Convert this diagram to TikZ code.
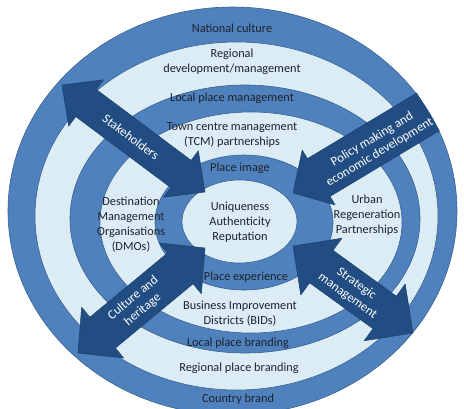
\documentclass[tikz,border=0pt]{standalone}
\usepackage{fontspec}
\setmainfont{Carlito}
\definecolor{ringmid}{RGB}{79,129,189}
\definecolor{ringlight}{RGB}{219,236,245}
\definecolor{ringedge}{RGB}{58,96,146}
\definecolor{arrowblue}{RGB}{33,77,130}
\definecolor{labeltext}{RGB}{30,35,45}

\begin{document}
\begin{tikzpicture}[line cap=round,line join=round,x=1pt,y=-1pt,
    midring/.style={fill=ringmid,draw=ringedge,line width=0.6pt},
    lightring/.style={fill=ringlight,draw=ringedge,line width=0.6pt},
    bigarrow/.style={fill=arrowblue,draw=arrowblue!85!black,line width=0.5pt},
    ringlabel/.style={text=labeltext,font=\fontsize{12.3}{15}\selectfont,align=center,inner sep=0pt},
    arrowlabel/.style={text=white,font=\fontsize{12.8}{15}\selectfont,align=center,inner sep=0pt}]
      \useasboundingbox (0,0) rectangle (464,408);
      \clip (0,0) rectangle (464,408);
      \draw[midring] (232.5,211) ellipse [x radius=224.5,y radius=204];
      \draw[lightring] (236.5,216) ellipse [x radius=201.5,y radius=174];
      \draw[midring] (245,219) ellipse [x radius=175,y radius=134];
      \draw[lightring] (251,222.5) ellipse [x radius=151,y radius=110.5];
      \draw[midring] (244,222.5) ellipse [x radius=89,y radius=67.5];
      \draw[lightring] (239.5,221.5) ellipse [x radius=57.5,y radius=41.5];
      \begin{scope}[shift={(133.5,138.5)},rotate=-36.8]
        \draw[bigarrow] (-89.3,0) -- (-59.3,-29) -- (-59.3,-17) -- (59.3,-17) -- (59.3,-29) -- (89.3,0)
          -- (59.3,29) -- (59.3,17) -- (-59.3,17) -- (-59.3,29) -- cycle;
      \end{scope}
      \begin{scope}[shift={(293,193)},rotate=31]
        \draw[bigarrow] (0,0) -- (30,-32) -- (30,-22) -- (157.4,-22) -- (157.4,22) -- (30,22) -- (30,32) -- cycle;
      \end{scope}
      \begin{scope}[shift={(141.5,300.5)},rotate=39.6]
        \draw[bigarrow] (-82.4,0) -- (-50.4,-33) -- (-50.4,-20) -- (50.4,-20) -- (50.4,-33) -- (82.4,0)
          -- (50.4,33) -- (50.4,20) -- (-50.4,20) -- (-50.4,33) -- cycle;
      \end{scope}
      \begin{scope}[shift={(353,289.5)},rotate=-35.9]
        \draw[bigarrow] (-74.1,0) -- (-39.1,-35) -- (-39.1,-20) -- (39.1,-20) -- (39.1,-35) -- (74.1,0)
          -- (39.1,35) -- (39.1,20) -- (-39.1,20) -- (-39.1,35) -- cycle;
      \end{scope}
      \node[arrowlabel,rotate=-36.8] (stake) at (131,137) {Stakeholders};
      \node[arrowlabel,rotate=31] (policy) at (376,146) {Policy making and\\economic development};
      \node[arrowlabel,rotate=39.6] (culture) at (138,304) {Culture and\\heritage};
      \node[arrowlabel,rotate=-35.9] (strategic) at (352,290) {Strategic\\management};
      \node[ringlabel] (national) at (232,28) {National culture};
      \node[ringlabel] (regdev) at (232,62) {Regional\\development/management};
      \node[ringlabel] (localmgmt) at (232,98) {Local place management};
      \node[ringlabel] (tcm) at (232,135) {Town centre management\\(TCM) partnerships};
      \node[ringlabel] (image) at (240,168) {Place image};
      \node[ringlabel] (core) at (240,222) {Uniqueness\\Authenticity\\Reputation};
      \node[ringlabel] (dmo) at (131,225) {Destination\\Management\\Organisations\\(DMOs)};
      \node[ringlabel] (urban) at (367,215) {Urban\\Regeneration\\Partnerships};
      \node[ringlabel] (experience) at (246,277) {Place experience};
      \node[ringlabel] (bids) at (240,314) {Business Improvement\\Districts (BIDs)};
      \node[ringlabel] (localbrand) at (238,343) {Local place branding};
      \node[ringlabel] (regbrand) at (239,368) {Regional place branding};
      \node[ringlabel] (country) at (238,399) {Country brand};
    \end{tikzpicture}
\end{document}
